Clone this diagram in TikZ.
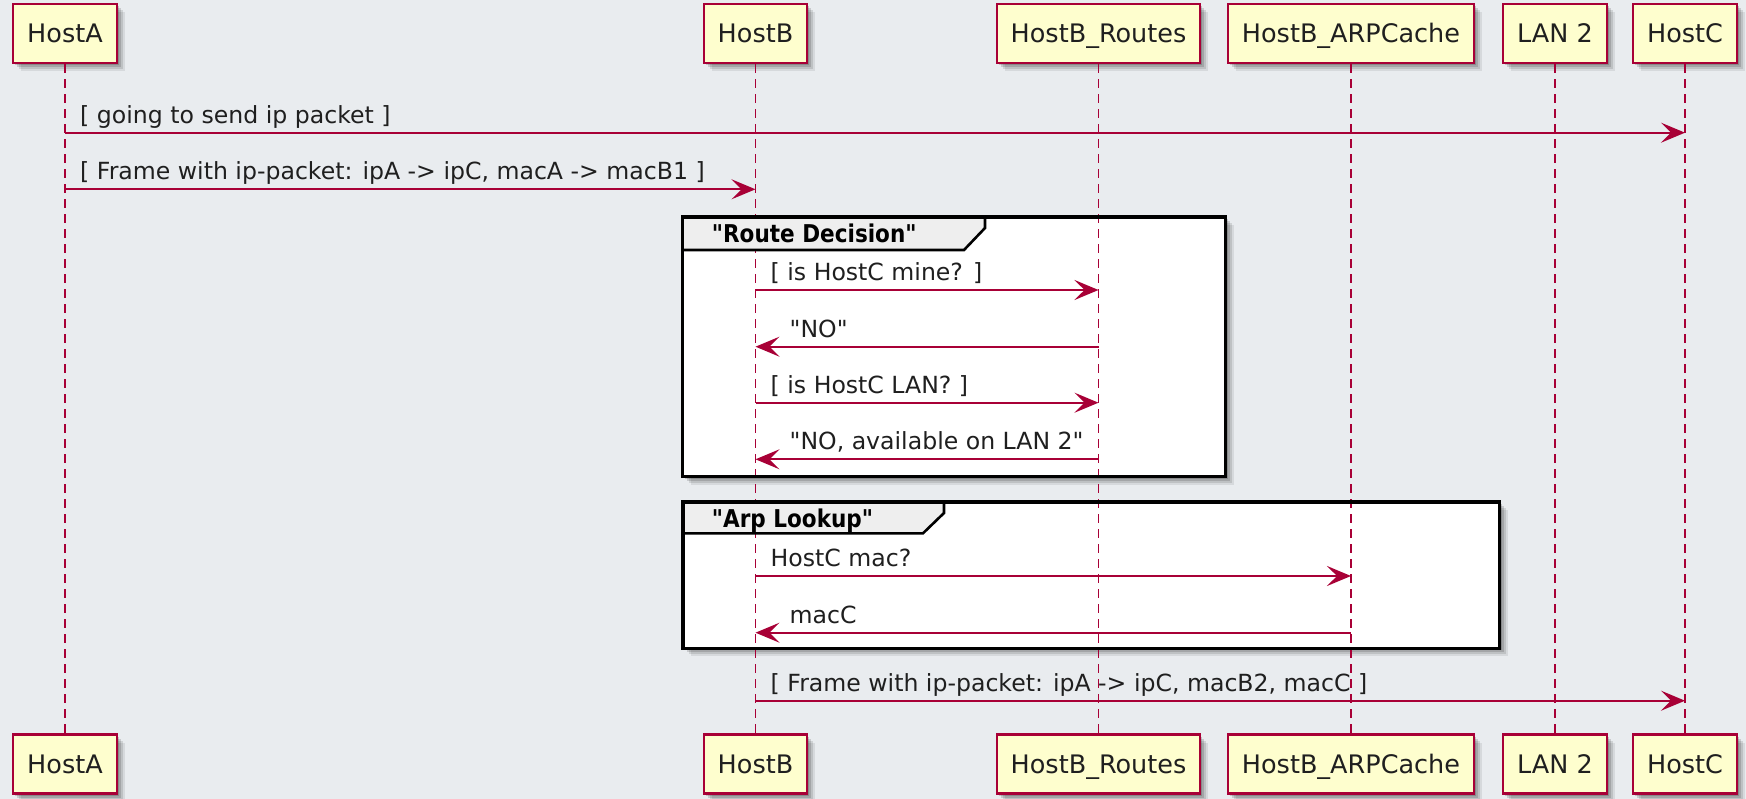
\documentclass[tikz,border=0pt]{standalone}
\usepackage{fontspec}
\setmainfont{DejaVu Sans}[Ligatures=TeXOff]
\usetikzlibrary{arrows.meta,shadows,calc}

\definecolor{bg}{HTML}{E9ECEF}
\definecolor{umlred}{HTML}{A80036}
\definecolor{umlfill}{HTML}{FEFECE}
\definecolor{tabfill}{HTML}{EEEEEE}

\tikzset{
  softshadow/.style={
    general shadow={fill=black,opacity=0.08,shadow xshift=8pt,shadow yshift=-8pt},
    general shadow={fill=black,opacity=0.11,shadow xshift=6pt,shadow yshift=-6pt},
    general shadow={fill=black,opacity=0.14,shadow xshift=4pt,shadow yshift=-4pt},
    general shadow={fill=black,opacity=0.17,shadow xshift=2pt,shadow yshift=-2pt}},
  participant/.style={draw=umlred, line width=2.3pt, fill=umlfill,
    minimum height=59pt, inner xsep=14pt, text height=18.6pt, text depth=0pt,
    font=\fontsize{25.5}{30}\selectfont, text=black!88, softshadow},
  lifeline/.style={draw=umlred, line width=1.4pt, dash pattern=on 9pt off 6pt},
  msg/.style={draw=umlred, line width=1.8pt,
    -{Stealth[length=24pt,width=20pt,inset=10pt]}},
  msgtext/.style={anchor=base west, inner sep=0pt, text=black!88,
    font=\fontsize{23.6}{28}\selectfont},
  grouptitle/.style={anchor=base west, inner sep=0pt,
    font=\fontsize{24.5}{28}\selectfont\bfseries},
  groupbody/.style={fill=white, softshadow},
  groupborder/.style={draw=black, line width=3.2pt},
  tabline/.style={draw=black, line width=2.6pt, line join=miter},
}

\begin{document}
\begin{tikzpicture}[x=1pt,y=-1pt]
\useasboundingbox (0,0) rectangle (1746,799);
\fill[bg] (0,0) rectangle (1746,799);

% group frames (bodies first so lifelines run across them)
\path[groupbody] (682.5,217) rectangle (1225.5,476.7);
\path[groupbody] (683,502) rectangle (1499.5,648.3);

% participants, top row
\node[participant] (tA) at (65,33.5)     {HostA};
\node[participant] (tB) at (755.5,33.5)  {HostB};
\node[participant] (tR) at (1098.5,33.5) {HostB\_Routes};
\node[participant] (tP) at (1351,33.5)   {HostB\_ARPCache};
\node[participant] (tL) at (1555,33.5)   {LAN 2};
\node[participant] (tC) at (1685,33.5)   {HostC};

% participants, bottom row
\node[participant] (bA) at (65,764)     {HostA};
\node[participant] (bB) at (755.5,764)  {HostB};
\node[participant] (bR) at (1098.5,764) {HostB\_Routes};
\node[participant] (bP) at (1351,764)   {HostB\_ARPCache};
\node[participant] (bL) at (1555,764)   {LAN 2};
\node[participant] (bC) at (1685,764)   {HostC};

% lifelines
\foreach \p in {A,B,R,P,L,C}
  \draw[lifeline] (t\p.south) -- (b\p.north);

% group tabs and borders
\fill[tabfill] (682.5,217) -- (985,217) -- (985,228) -- (964,250) -- (682.5,250) -- cycle;
\draw[tabline] (985,217) -- (985,228) -- (964,250) -- (682.5,250);
\draw[groupborder] (682.5,217) rectangle (1225.5,476.7);
\node[grouptitle] (g1) at (711.7,242.7) {\scalebox{0.88}[1]{"Route Decision"}};

\fill[tabfill] (683,502) -- (944,502) -- (944,513) -- (923,533.3) -- (683,533.3) -- cycle;
\draw[tabline] (944,502) -- (944,513) -- (923,533.3) -- (683,533.3);
\draw[groupborder] (683,502) rectangle (1499.5,648.3);
\node[grouptitle] (g2) at (711.7,527.7) {\scalebox{0.88}[1]{"Arp Lookup"}};

% message rows
\coordinate (m1) at (0,132.7);
\coordinate (m2) at (0,189.3);
\coordinate (m3) at (0,290);
\coordinate (m4) at (0,346.7);
\coordinate (m5) at (0,402.7);
\coordinate (m6) at (0,459.3);
\coordinate (m7) at (0,576);
\coordinate (m8) at (0,632.7);
\coordinate (m9) at (0,700.7);

% messages
\draw[msg] (tA |- m1) -- (tC |- m1);
\node[msgtext] (l1) at ($(tA |- m1)+(15,-9.5)$) {[ going to send ip packet ]};

\draw[msg] (tA |- m2) -- (tB |- m2);
\node[msgtext] (l2) at ($(tA |- m2)+(15,-9.5)$) {[ Frame with ip-packet: ipA -> ipC, macA -> macB1 ]};

\draw[msg] (tB |- m3) -- (tR |- m3);
\node[msgtext] (l3) at ($(tB |- m3)+(15,-9.5)$) {[ is HostC mine? ]};

\draw[msg] (tR |- m4) -- (tB |- m4);
\node[msgtext] (l4) at ($(tB |- m4)+(34,-9.5)$) {"NO"};

\draw[msg] (tB |- m5) -- (tR |- m5);
\node[msgtext] (l5) at ($(tB |- m5)+(15,-9.5)$) {[ is HostC LAN? ]};

\draw[msg] (tR |- m6) -- (tB |- m6);
\node[msgtext] (l6) at ($(tB |- m6)+(34,-9.5)$) {"NO, available on LAN 2"};

\draw[msg] (tB |- m7) -- (tP |- m7);
\node[msgtext] (l7) at ($(tB |- m7)+(15,-9.5)$) {HostC mac?};

\draw[msg] (tP |- m8) -- (tB |- m8);
\node[msgtext] (l8) at ($(tB |- m8)+(34,-9.5)$) {macC};

\draw[msg] (tB |- m9) -- (tC |- m9);
\node[msgtext] (l9) at ($(tB |- m9)+(15,-9.5)$) {[ Frame with ip-packet: ipA -> ipC, macB2, macC ]};
\end{tikzpicture}
\end{document}
